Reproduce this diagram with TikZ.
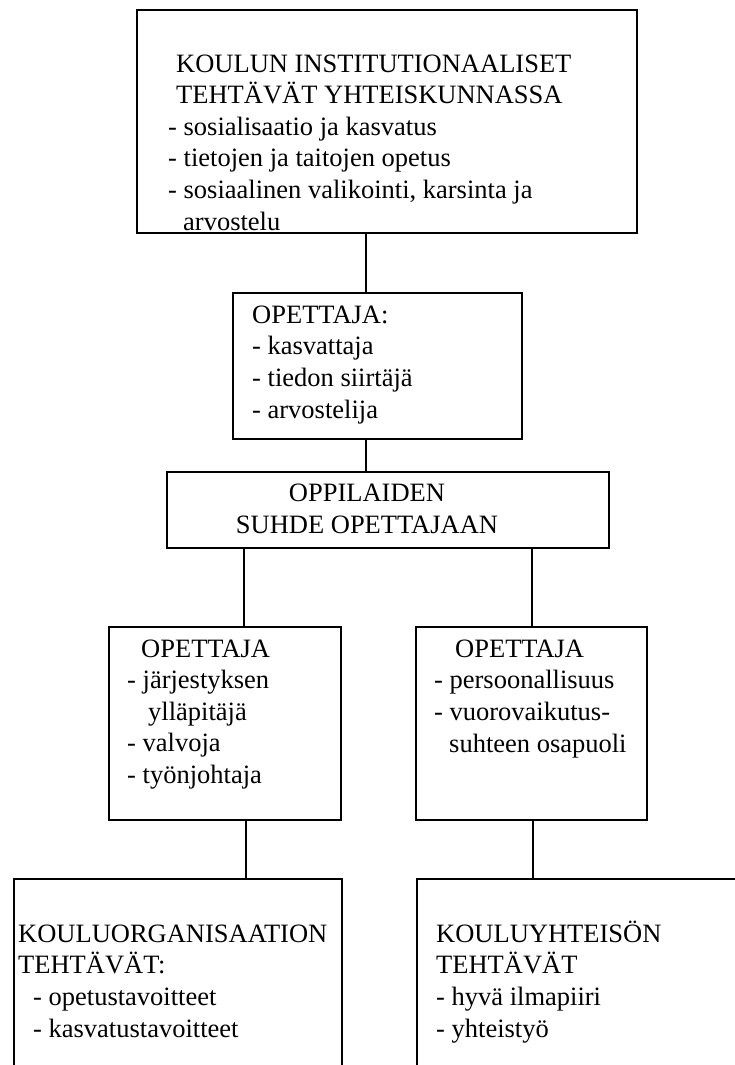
\documentclass[tikz,border=0pt]{standalone}
\usepackage{fontspec}
\setmainfont{Liberation Serif}
\usetikzlibrary{calc}

\begin{document}
\begin{tikzpicture}[x=1pt,y=-1pt]
      \tikzset{
        every node/.style={inner sep=0pt,font=\fontsize{26.5}{31.6}\selectfont},
        box/.style={draw,line width=2pt},
        txt/.style={anchor=base west,align=left}
      }

      \useasboundingbox (0,0) rectangle (735,1065);
      \clip (0,0) rectangle (735,1065);

      % boxes
      \node[box,minimum width=500,minimum height=223] (b1) at (387,121.5) {};
      \node[box,minimum width=289,minimum height=146] (b2) at (377.5,366) {};
      \node[box,minimum width=442,minimum height=76] (b3) at (388,510) {};
      \node[box,minimum width=232,minimum height=193] (b4) at (225,723.5) {};
      \node[box,minimum width=231,minimum height=193] (b5) at (531.5,723.5) {};
      \node[box,minimum width=328,minimum height=221] (b6) at (178,989.5) {};
      \node[box,minimum width=343,minimum height=221] (b7) at (588.5,989.5) {};

      % texts (placed at the baseline of their last line)
      \node[txt] (t1) at (168,230) {\hspace*{8pt}KOULUN INSTITUTIONAALISET\\
        \hspace*{8pt}TEHTÄVÄT YHTEISKUNNASSA\\
        - sosialisaatio ja kasvatus\\
        - tietojen ja taitojen opetus\\
        - sosiaalinen valikointi, karsinta ja\\
        \hspace*{15pt}arvostelu};
      \node[txt] (t2) at (252,418) {OPETTAJA:\\
        - kasvattaja\\
        - tiedon siirtäjä\\
        - arvostelija};
      \node[anchor=base,align=center] (t3) at (367,533.5) {OPPILAIDEN\\
        SUHDE OPETTAJAAN};
      \node[txt] (t4) at (127,783.5) {\hspace*{14pt}OPETTAJA\\
        - järjestyksen\\
        \hspace*{21pt}ylläpitäjä\\
        - valvoja\\
        - työnjohtaja};
      \node[txt] (t5) at (434,752) {\hspace*{21pt}OPETTAJA\\
        - persoonallisuus\\
        - vuorovaikutus-\\
        \hspace*{15pt}suhteen osapuoli};
      \node[txt] (t6) at (18,1037) {KOULUORGANISAATION\\
        TEHTÄVÄT:\\
        \hspace*{15pt}- opetustavoitteet\\
        \hspace*{15pt}- kasvatustavoitteet};
      \node[txt] (t7) at (436,1037) {KOULUYHTEISÖN\\
        TEHTÄVÄT\\
        - hyvä ilmapiiri\\
        - yhteistyö};

      % connectors
      \draw[line width=2pt] ($(b1.south)+(-21,0)$) edge[] ($(b2.north)+(-11.5,0)$)
            ($(b2.south)+(-11.5,0)$) edge[] ($(b3.north)+(-22,0)$)
            ($(b3.south)+(-144,0)$) edge[] ($(b4.north)+(19,0)$)
            ($(b3.south)+(144,0)$) edge[] ($(b5.north)+(0.5,0)$)
            ($(b4.south)+(21,0)$) edge[] ($(b6.north)+(68,0)$)
            ($(b5.south)+(1.5,0)$) edge[] ($(b7.north)+(-55.5,0)$);
\end{tikzpicture}
\end{document}
